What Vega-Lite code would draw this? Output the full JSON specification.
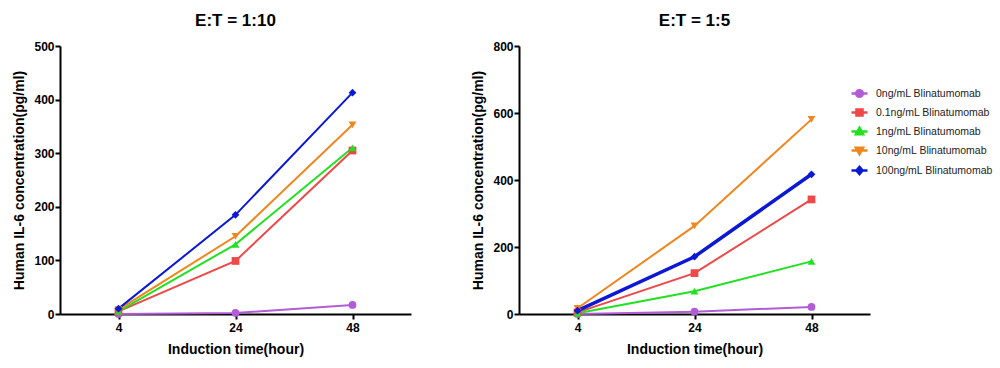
{
  "$schema": "https://vega.github.io/schema/vega-lite/v6.json",
  "background": "white",
  "padding": {"left": 12, "top": 12, "right": 5, "bottom": 5},
  "datasets": {
    "p10": [
      {"time": 4, "dose": "0ng/mL Blinatumomab", "value": 0},
      {"time": 24, "dose": "0ng/mL Blinatumomab", "value": 2},
      {"time": 48, "dose": "0ng/mL Blinatumomab", "value": 17},
      {"time": 4, "dose": "0.1ng/mL Blinatumomab", "value": 5},
      {"time": 24, "dose": "0.1ng/mL Blinatumomab", "value": 99},
      {"time": 48, "dose": "0.1ng/mL Blinatumomab", "value": 305},
      {"time": 4, "dose": "1ng/mL Blinatumomab", "value": 5},
      {"time": 24, "dose": "1ng/mL Blinatumomab", "value": 130},
      {"time": 48, "dose": "1ng/mL Blinatumomab", "value": 310},
      {"time": 4, "dose": "10ng/mL Blinatumomab", "value": 8},
      {"time": 24, "dose": "10ng/mL Blinatumomab", "value": 145},
      {"time": 48, "dose": "10ng/mL Blinatumomab", "value": 353},
      {"time": 4, "dose": "100ng/mL Blinatumomab", "value": 10},
      {"time": 24, "dose": "100ng/mL Blinatumomab", "value": 185},
      {"time": 48, "dose": "100ng/mL Blinatumomab", "value": 413}
    ],
    "p5": [
      {"time": 4, "dose": "0ng/mL Blinatumomab", "value": 0},
      {"time": 24, "dose": "0ng/mL Blinatumomab", "value": 7},
      {"time": 48, "dose": "0ng/mL Blinatumomab", "value": 21},
      {"time": 4, "dose": "0.1ng/mL Blinatumomab", "value": 5},
      {"time": 24, "dose": "0.1ng/mL Blinatumomab", "value": 122},
      {"time": 48, "dose": "0.1ng/mL Blinatumomab", "value": 342},
      {"time": 4, "dose": "1ng/mL Blinatumomab", "value": 2},
      {"time": 24, "dose": "1ng/mL Blinatumomab", "value": 68},
      {"time": 48, "dose": "1ng/mL Blinatumomab", "value": 157},
      {"time": 4, "dose": "10ng/mL Blinatumomab", "value": 17},
      {"time": 24, "dose": "10ng/mL Blinatumomab", "value": 263},
      {"time": 48, "dose": "10ng/mL Blinatumomab", "value": 581},
      {"time": 4, "dose": "100ng/mL Blinatumomab", "value": 10},
      {"time": 24, "dose": "100ng/mL Blinatumomab", "value": 171},
      {"time": 48, "dose": "100ng/mL Blinatumomab", "value": 417}
    ]
  },
  "config": {
    "font": "Liberation Sans",
    "view": {"stroke": null},
    "concat": {"spacing": 60},
    "title": {"fontSize": 17, "fontWeight": "bold", "color": "#000", "offset": 10, "anchor": "middle"},
    "axis": {
      "domainColor": "#000", "domainWidth": 2, "tickColor": "#000", "tickWidth": 2, "tickSize": 5,
      "labelFont": "Liberation Sans", "labelFontSize": 12, "labelFontWeight": "bold", "labelColor": "#000",
      "titleFont": "Liberation Sans", "titleFontSize": 14, "titleFontWeight": "bold", "titleColor": "#000",
      "grid": false
    },
    "axisX": {"labelPadding": 3, "titlePadding": 9, "labelAngle": 0},
    "axisY": {"labelPadding": 1, "titlePadding": 7},
    "legend": {
      "orient": "none", "legendX": 790, "legendY": 38,
      "labelFont": "Liberation Sans", "labelFontSize": 10.5, "labelColor": "#222",
      "symbolSize": 256, "symbolStrokeWidth": 2.5, "rowPadding": 1, "title": null, "labelOffset": 7
    }
  },
  "hconcat": [
    {
      "title": "E:T = 1:10",
      "width": 351, "height": 268,
      "data": {"name": "p10"},
      "encoding": {
        "x": {"field": "time", "type": "ordinal", "scale": {"type": "point", "padding": 0.5},
              "axis": {"title": "Induction time(hour)"}},
        "y": {"field": "value", "type": "quantitative", "scale": {"domain": [0, 500], "nice": false},
              "axis": {"title": "Human IL-6 concentration(pg/ml)", "values": [0, 100, 200, 300, 400, 500]}},
        "color": {"field": "dose", "type": "nominal",
          "scale": {"domain": ["0ng/mL Blinatumomab", "0.1ng/mL Blinatumomab", "1ng/mL Blinatumomab", "10ng/mL Blinatumomab", "100ng/mL Blinatumomab"],
                    "range": ["#B25CD8", "#EE4848", "#22E022", "#F0861E", "#0B18D4"]},
          "legend": {
            "encode": {
              "symbols": {
                "update": {
                  "shape": {"signal": "datum.value === '0ng/mL Blinatumomab' ? 'M-1,0H1M0.42,0A0.42,0.42,0,1,1,-0.42,0A0.42,0.42,0,1,1,0.42,0Z' : datum.value === '0.1ng/mL Blinatumomab' ? 'M-1,0H1M-0.38,-0.38H0.38V0.38H-0.38Z' : datum.value === '1ng/mL Blinatumomab' ? 'M-1,0H1M0,-0.45L0.45,0.35L-0.45,0.35Z' : datum.value === '10ng/mL Blinatumomab' ? 'M-1,0H1M0,0.45L0.45,-0.35L-0.45,-0.35Z' : 'M-1,0H1M0,-0.45L0.38,0L0,0.45L-0.38,0Z'"},
                  "fill": {"scale": "color", "field": "value"},
                  "stroke": {"scale": "color", "field": "value"},
                  "strokeWidth": {"value": 2.5},
                  "opacity": {"value": 1}
                }
              }
            }
          }
        }
      },
      "layer": [
        {"mark": {"type": "line", "strokeWidth": 2}, "encoding": {"detail": {"field": "dose"}}},
        {"mark": {"type": "point", "filled": true, "opacity": 1, "size": 60},
         "encoding": {"shape": {"condition": [
           {"test": "datum.dose === '0.1ng/mL Blinatumomab'", "value": "square"},
           {"test": "datum.dose === '1ng/mL Blinatumomab'", "value": "triangle-up"},
           {"test": "datum.dose === '10ng/mL Blinatumomab'", "value": "triangle-down"},
           {"test": "datum.dose === '100ng/mL Blinatumomab'", "value": "diamond"}
         ], "value": "circle"}}}
      ]
    },
    {
      "title": "E:T = 1:5",
      "width": 351, "height": 268,
      "data": {"name": "p5"},
      "encoding": {
        "x": {"field": "time", "type": "ordinal", "scale": {"type": "point", "padding": 0.5},
              "axis": {"title": "Induction time(hour)"}},
        "y": {"field": "value", "type": "quantitative", "scale": {"domain": [0, 800], "nice": false},
              "axis": {"title": "Human IL-6 concentration(pg/ml)", "values": [0, 200, 400, 600, 800]}},
        "color": {"field": "dose", "type": "nominal",
          "scale": {"domain": ["0ng/mL Blinatumomab", "0.1ng/mL Blinatumomab", "1ng/mL Blinatumomab", "10ng/mL Blinatumomab", "100ng/mL Blinatumomab"],
                    "range": ["#B25CD8", "#EE4848", "#22E022", "#F0861E", "#0B18D4"]},
          "legend": {
            "encode": {
              "symbols": {
                "update": {
                  "shape": {"signal": "datum.value === '0ng/mL Blinatumomab' ? 'M-1,0H1M0.42,0A0.42,0.42,0,1,1,-0.42,0A0.42,0.42,0,1,1,0.42,0Z' : datum.value === '0.1ng/mL Blinatumomab' ? 'M-1,0H1M-0.38,-0.38H0.38V0.38H-0.38Z' : datum.value === '1ng/mL Blinatumomab' ? 'M-1,0H1M0,-0.45L0.45,0.35L-0.45,0.35Z' : datum.value === '10ng/mL Blinatumomab' ? 'M-1,0H1M0,0.45L0.45,-0.35L-0.45,-0.35Z' : 'M-1,0H1M0,-0.45L0.38,0L0,0.45L-0.38,0Z'"},
                  "fill": {"scale": "color", "field": "value"},
                  "stroke": {"scale": "color", "field": "value"},
                  "strokeWidth": {"value": 2.5},
                  "opacity": {"value": 1}
                }
              }
            }
          }
        }
      },
      "layer": [
        {"mark": {"type": "line"}, "encoding": {"detail": {"field": "dose"},
          "strokeWidth": {"condition": {"test": "datum.dose === '100ng/mL Blinatumomab'", "value": 3.5}, "value": 2}}},
        {"mark": {"type": "point", "filled": true, "opacity": 1, "size": 60},
         "encoding": {"shape": {"condition": [
           {"test": "datum.dose === '0.1ng/mL Blinatumomab'", "value": "square"},
           {"test": "datum.dose === '1ng/mL Blinatumomab'", "value": "triangle-up"},
           {"test": "datum.dose === '10ng/mL Blinatumomab'", "value": "triangle-down"},
           {"test": "datum.dose === '100ng/mL Blinatumomab'", "value": "diamond"}
         ], "value": "circle"}}}
      ]
    }
  ]
}
